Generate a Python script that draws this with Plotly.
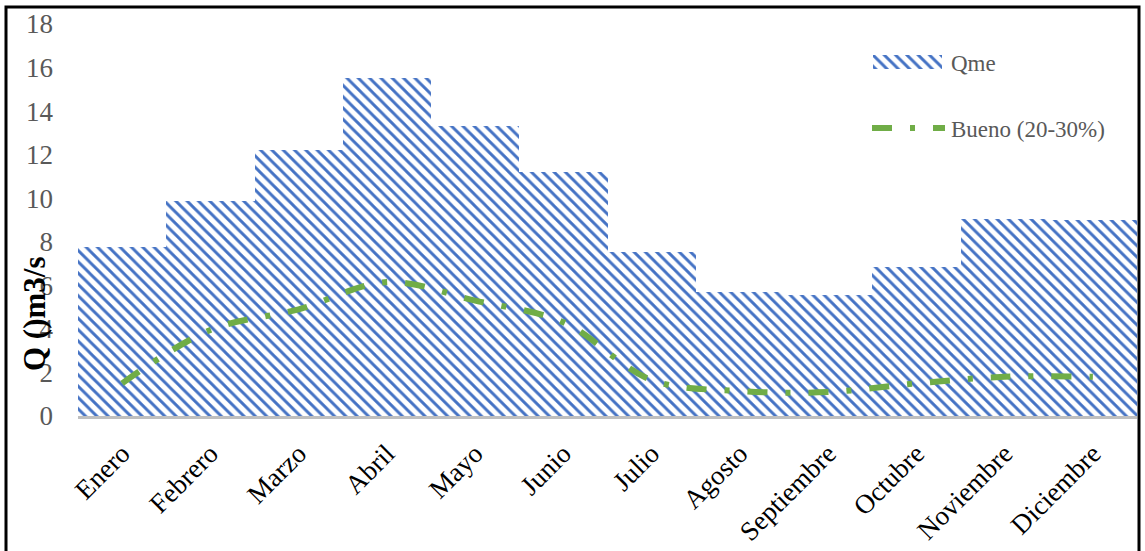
import plotly.graph_objects as go

# Monthly mean discharge (m3/s) and the "Bueno" environmental flow band
months = ["Enero", "Febrero", "Marzo", "Abril", "Mayo", "Junio", "Julio",
          "Agosto", "Septiembre", "Octubre", "Noviembre", "Diciembre"]
qme = [7.75, 9.85, 12.2, 15.5, 13.3, 11.2, 7.55, 5.7, 5.55, 6.85, 9.05, 9.0]
bueno = [1.5, 3.95, 4.9, 6.15, 5.3, 4.3, 1.65, 1.15, 1.1, 1.5, 1.8, 1.8]
y_ticks = [0, 2, 4, 6, 8, 10, 12, 14, 16, 18]

W, H = 1145, 551
L, R, T, B = 78, 8, 24, 135
PW, PH = W - L - R, H - T - B


def px(p):
    return (p - L) / PW


def py(q):
    return (T + PH - q) / PH


SERIF = "Liberation Serif"
BLUE = "#4472C4"
GREEN = "#70AD47"
GREY = "#595959"
DASH = "20px,18px,5px,18px"

bar_pattern = dict(shape="\\", fgcolor=BLUE, fgopacity=1, bgcolor="white",
                   size=8, solidity=0.36)

fig = go.Figure()

fig.add_trace(go.Bar(
    x=months, y=qme, name="Qme", width=1,
    marker=dict(color="white", pattern=bar_pattern, line=dict(width=0)),
    showlegend=False,
))

fig.add_trace(go.Scatter(
    x=months, y=bueno, name="Bueno (20-30%)", mode="lines",
    line=dict(color=GREEN, width=6, shape="spline", smoothing=1, dash=DASH),
    showlegend=False,
))

# Legend swatches on small hidden axes
fig.add_trace(go.Bar(
    x=[0], y=[1], width=1, xaxis="x2", yaxis="y2", showlegend=False, hoverinfo="skip",
    marker=dict(color="white", pattern=bar_pattern, line=dict(width=0)),
))
fig.add_trace(go.Scatter(
    x=[0, 1], y=[0.5, 0.5], xaxis="x3", yaxis="y3", mode="lines",
    showlegend=False, hoverinfo="skip",
    line=dict(color=GREEN, width=6, dash=DASH),
))

hidden = dict(visible=False, fixedrange=True)

fig.update_layout(
    width=W, height=H,
    margin=dict(l=L, r=R, t=T, b=B, autoexpand=False),
    paper_bgcolor="white", plot_bgcolor="white",
    bargap=0,
    font=dict(family=SERIF, color=GREY),
    xaxis=dict(
        type="category", range=[-0.5, 11.5], automargin=False,
        showgrid=False, showline=True, linecolor="#BFBFBF", linewidth=3,
        ticks="", tickangle=-45, ticklabelstandoff=8,
        tickfont=dict(family=SERIF, size=27, color="black"),
    ),
    yaxis=dict(
        range=[0, 18], tickvals=y_ticks, showgrid=False, zeroline=False,
        automargin=False, showline=False, ticks="", ticklabelstandoff=24,
        tickfont=dict(family=SERIF, size=27, color=GREY),
    ),
    xaxis2=dict(domain=[px(873), px(942)], range=[-0.5, 0.5], anchor="y2", **hidden),
    yaxis2=dict(domain=[py(69), py(55)], range=[0, 1], anchor="x2", **hidden),
    xaxis3=dict(domain=[px(872), px(945)], range=[0, 1], anchor="y3", **hidden),
    yaxis3=dict(domain=[py(135), py(121)], range=[0, 1], anchor="x3", **hidden),
    annotations=[
        dict(text="Qme", xref="paper", yref="paper", x=px(949), y=py(63),
             xanchor="left", yanchor="middle", showarrow=False,
             font=dict(family=SERIF, size=23, color=GREY)),
        dict(text="Bueno (20-30%)", xref="paper", yref="paper", x=px(949), y=py(129),
             xanchor="left", yanchor="middle", showarrow=False,
             font=dict(family=SERIF, size=23, color=GREY)),
        dict(text="<b>Q ()m3/s</b>", xref="paper", yref="paper", x=px(34), y=py(314),
             xanchor="center", yanchor="middle", textangle=-90, showarrow=False,
             font=dict(family=SERIF, size=31, color="black")),
    ],
    shapes=[
        dict(type="rect", xref="paper", yref="paper",
             x0=px(6), x1=px(1139), y0=py(7), y1=py(565),
             line=dict(color="black", width=3), fillcolor="rgba(0,0,0,0)"),
    ],
)

fig.write_html("out.html")
